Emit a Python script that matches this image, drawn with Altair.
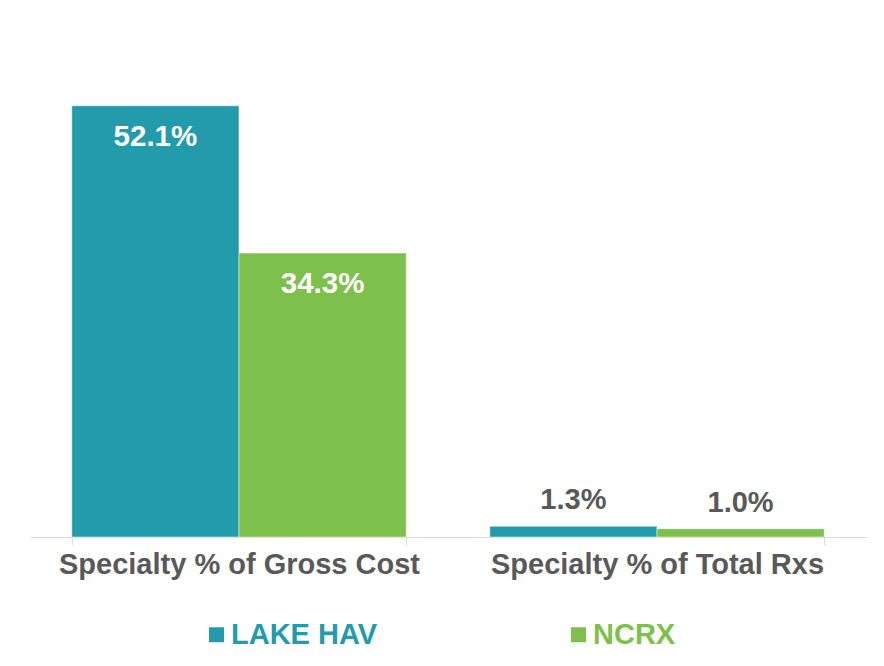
import altair as alt
import pandas as pd

categories = ["Specialty % of Gross Cost", "Specialty % of Total Rxs"]
series = ["LAKE HAV", "NCRX"]
lake_hav = [52.1, 1.3]
ncrx = [34.3, 1.0]
colors = ["#229BAA", "#7DC04B"]

rows = []
for i, c in enumerate(categories):
    rows.append({"category": c, "series": series[0], "value": lake_hav[i]})
    rows.append({"category": c, "series": series[1], "value": ncrx[i]})
df = pd.DataFrame(rows)
df["label"] = df["value"].map(lambda v: f"{v:.1f}%")

FONT = "Liberation Sans"
GREY = "#595959"

x = alt.X("category:N", sort=categories, title=None,
          scale=alt.Scale(paddingInner=0.2, paddingOuter=0.1),
          axis=alt.Axis(labelAngle=0, labelFont=FONT, labelFontSize=29,
                        labelFontWeight="bold", labelColor=GREY,
                        domainColor="#d9d9d9", tickColor="#d9d9d9",
                        ticks=True, tickSize=8, tickBand="extent",
                        labelPadding=5, labelLimit=500))
y = alt.Y("value:Q", scale=alt.Scale(domain=[0, 61.5]), axis=None)
xoff = alt.XOffset("series:N", sort=series)

base = alt.Chart(df).encode(x=x, y=y, xOffset=xoff)

bars = base.mark_bar(stroke="white", strokeWidth=0.5).encode(
    color=alt.Color("series:N", sort=series, title=None,
                    scale=alt.Scale(domain=series, range=colors),
                    legend=alt.Legend(orient="none", legendX=172, legendY=592,
                                      direction="horizontal",
                                      symbolType="square", symbolSize=225,
                                      symbolStrokeWidth=0,
                                      labelFont=FONT, labelFontSize=29,
                                      labelFontWeight="bold",
                                      labelColor={"expr": "datum.label == 'NCRX' ? '#7DC04B' : '#229BAA'"},
                                      labelOffset=0, columnPadding=186,
                                      labelLimit=400, padding=0))
)

inside = base.transform_filter("datum.value > 10").mark_text(
    font=FONT, fontSize=29.5, fontWeight="bold", color="white",
    baseline="top", dy=17
).encode(text="label:N")

above = base.transform_filter("datum.value <= 10").mark_text(
    font=FONT, fontSize=29, fontWeight="bold", color=GREY,
    baseline="alphabetic", dy=-17
).encode(text="label:N")

chart = alt.layer(bars, inside, above).properties(
    width=836, height=509,
    autosize=alt.AutoSizeParams(type="none"),
    padding={"left": 22, "top": 20, "right": 10, "bottom": 120},
    background="white",
).configure_view(stroke=None)

chart.save("out.html", embed_options={"renderer": "svg", "actions": False})
